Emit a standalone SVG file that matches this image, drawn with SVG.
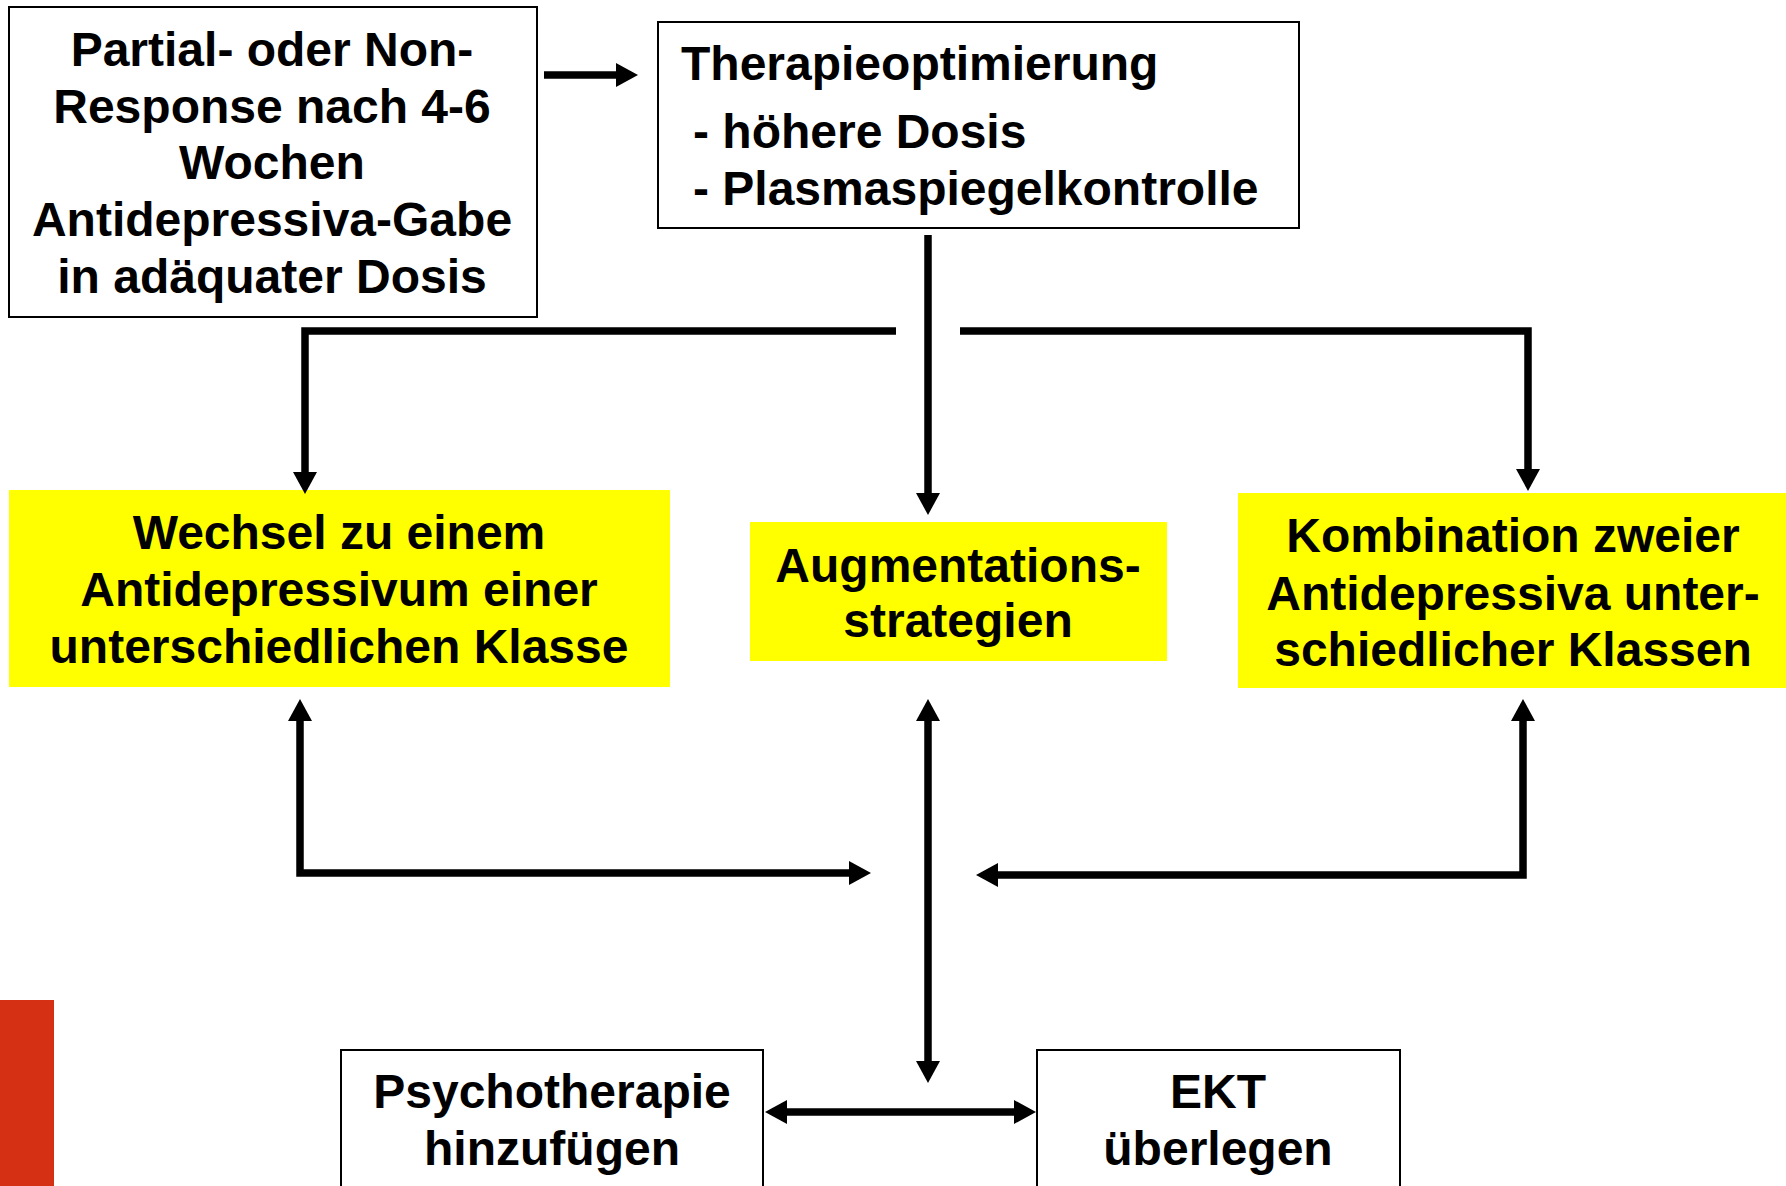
<svg xmlns="http://www.w3.org/2000/svg" width="1786" height="1186" viewBox="0 0 1786 1186">
<style>
  .box{fill:#ffffff;stroke:#000000;stroke-width:2}
  .yel{fill:#ffff00;stroke:none}
  .t{font-family:"Liberation Sans",Arial,sans-serif;font-weight:bold;font-size:48px;fill:#000000}
  .c{text-anchor:middle}
  .ln{fill:none;stroke:#000000;stroke-width:7.5;stroke-linejoin:miter;stroke-linecap:butt}
</style>
<defs>
  <marker id="ah" markerUnits="userSpaceOnUse" markerWidth="24" markerHeight="26" refX="0" refY="12" orient="auto-start-reverse" viewBox="0 0 24 24" overflow="visible">
    <path d="M0,0 L22,12 L0,24 Z" fill="#000000"/>
  </marker>
</defs>
<rect width="1786" height="1186" fill="#ffffff"/>
<rect id="redbar" x="0" y="1000" width="54" height="186" fill="#D52F14"/>

<g id="n1">
  <rect class="box" x="9" y="7" width="528" height="310"/>
  <text class="t c" x="272" y="66">Partial- oder Non-</text>
  <text class="t c" x="272" y="123">Response nach 4-6</text>
  <text class="t c" x="272" y="179">Wochen</text>
  <text class="t c" x="272" y="236">Antidepressiva-Gabe</text>
  <text class="t c" x="272" y="293">in adäquater Dosis</text>
</g>
<g id="n2">
  <rect class="box" x="658" y="22" width="641" height="206"/>
  <text class="t" x="681" y="80">Therapieoptimierung</text>
  <text class="t" x="693" y="148">- höhere Dosis</text>
  <text class="t" x="693" y="205">- Plasmaspiegelkontrolle</text>
</g>
<g id="n3">
  <rect class="yel" x="9" y="490" width="661" height="197"/>
  <text class="t c" x="339" y="549">Wechsel zu einem</text>
  <text class="t c" x="339" y="606">Antidepressivum einer</text>
  <text class="t c" x="339" y="663">unterschiedlichen Klasse</text>
</g>
<g id="n4">
  <rect class="yel" x="750" y="522" width="417" height="139"/>
  <text class="t c" x="958" y="582">Augmentations-</text>
  <text class="t c" x="958" y="637">strategien</text>
</g>
<g id="n5">
  <rect class="yel" x="1238" y="493" width="548" height="195"/>
  <text class="t c" x="1513" y="552">Kombination zweier</text>
  <text class="t c" x="1513" y="610">Antidepressiva unter-</text>
  <text class="t c" x="1513" y="666">schiedlicher Klassen</text>
</g>
<g id="n6">
  <rect class="box" x="341" y="1050" width="422" height="150"/>
  <text class="t c" x="552" y="1108">Psychotherapie</text>
  <text class="t c" x="552" y="1165">hinzufügen</text>
</g>
<g id="n7">
  <rect class="box" x="1037" y="1050" width="363" height="150"/>
  <text class="t c" x="1218" y="1108">EKT</text>
  <text class="t c" x="1218" y="1165">überlegen</text>
</g>

<g id="connectors">
  <path class="ln" d="M544,75 H616" marker-end="url(#ah)"/>
  <path class="ln" d="M928,235 V493" marker-end="url(#ah)"/>
  <path class="ln" d="M896,331 H305 V472" marker-end="url(#ah)"/>
  <path class="ln" d="M960,331 H1528 V469" marker-end="url(#ah)"/>
  <path class="ln" d="M300,721 V873 H849" marker-start="url(#ah)" marker-end="url(#ah)"/>
  <path class="ln" d="M1523,721 V875 H998" marker-start="url(#ah)" marker-end="url(#ah)"/>
  <path class="ln" d="M928,721 V1061" marker-start="url(#ah)" marker-end="url(#ah)"/>
  <path class="ln" d="M787,1112 H1014" marker-start="url(#ah)" marker-end="url(#ah)"/>
</g>
</svg>
